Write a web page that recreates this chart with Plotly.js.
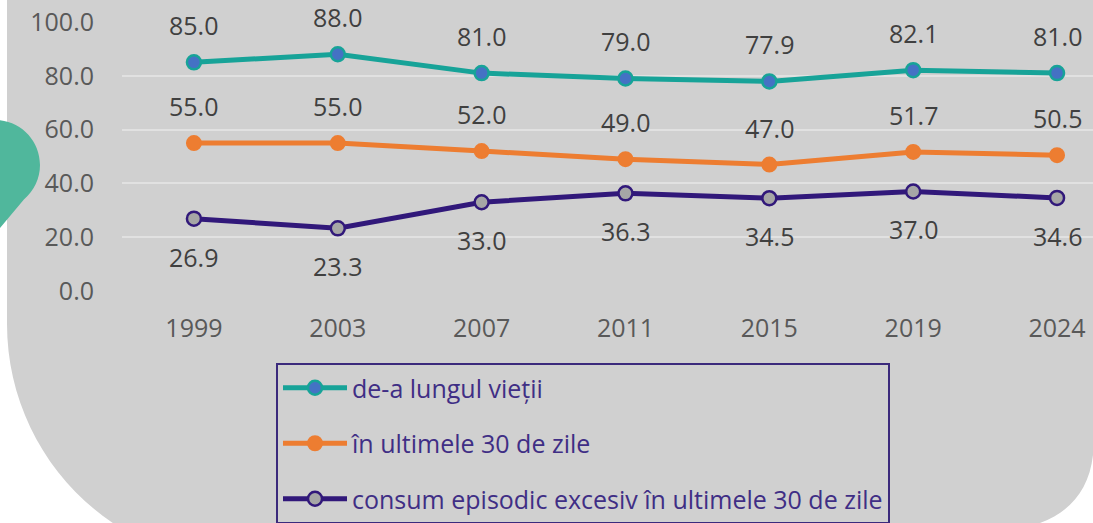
<!DOCTYPE html>
<html>
<head>
<meta charset="utf-8">
<script src="https://cdn.plot.ly/plotly-3.0.1.min.js"></script>
<style>
html,body{margin:0;padding:0;background:#fff;}
#chart{width:1093px;height:523px;}
</style>
</head>
<body>
<div id="chart"></div>
<script>
const years = ['1999','2003','2007','2011','2015','2019','2024'];
const lifetime = [85.0, 88.0, 81.0, 79.0, 77.9, 82.1, 81.0];
const last30 = [55.0, 55.0, 52.0, 49.0, 47.0, 51.7, 50.5];
const binge = [26.9, 23.3, 33.0, 36.3, 34.5, 37.0, 34.6];
const seriesNames = ['de-a lungul vieții', 'în ultimele 30 de zile', 'consum episodic excesiv în ultimele 30 de zile'];
const yTickVals = [0, 20, 40, 60, 80, 100];

const W = 1093, H = 523;
const M = {l: 122, r: 0, t: 22, b: 232, autoexpand: false};
const PW = W - M.l - M.r, PH = H - M.t - M.b;
function P(x, y) { return ((x - M.l) / PW).toFixed(5) + ',' + ((M.t + PH - y) / PH).toFixed(5); }

const greyPath = 'M' + P(7, -10) + ' L' + P(1100, -10) + ' L' + P(1100, 455) +
  ' L' + P(1093, 455) + ' C' + P(1089, 490) + ' ' + P(1070, 512) + ' ' + P(1040, 523) +
  ' L' + P(1040, 530) + ' L' + P(112.8, 530) +
  ' L' + P(112.8, 523) + ' C' + P(46.7, 478.4) + ' ' + P(7, 403.8) + ' ' + P(7, 324) + ' Z';
const blobPath = 'M' + P(-5, 120) + ' C' + P(19.9, 120) + ' ' + P(40, 140.1) + ' ' + P(40, 165) +
  ' C' + P(40, 178.3) + ' ' + P(34.1, 190.9) + ' ' + P(23.9, 199.5) +
  ' L' + P(-5, 234) + ' Z';

const teal = '#17A398', blue = '#4472C4', orange = '#ED7D31', purple = '#31187A', markGrey = '#A6A6A6';
const fontFam = 'Open Sans, Noto Sans, sans-serif';

const traces = [
  {x: years, y: lifetime, name: seriesNames[0], type: 'scatter', mode: 'lines+markers', legendgroup: 'a',
   line: {color: teal, width: 5}, marker: {color: blue, size: 14, line: {color: teal, width: 2.5}}, cliponaxis: false},
  {x: years, y: last30, name: seriesNames[1], type: 'scatter', mode: 'lines+markers', legendgroup: 'b',
   line: {color: orange, width: 5}, marker: {color: orange, size: 14, line: {color: orange, width: 2}}, cliponaxis: false},
  {x: years, y: binge, name: seriesNames[2], type: 'scatter', mode: 'lines+markers', legendgroup: 'c',
   line: {color: purple, width: 5}, marker: {color: markGrey, size: 14, line: {color: purple, width: 2.5}}, cliponaxis: false}
];

const annotations = [];
function addLabels(vals, shift) {
  vals.forEach(function (v, i) {
    annotations.push({
      x: i, y: v, xref: 'x', yref: 'y', text: v.toFixed(1), showarrow: false,
      xanchor: 'center', yanchor: 'middle',
      yshift: shift, font: {family: fontFam, size: 25, color: '#404040'}
    });
  });
}
addLabels(lifetime, 37);
addLabels(last30, 37);
addLabels(binge, -38);

const layout = {
  width: W, height: H,
  margin: M,
  paper_bgcolor: '#FFFFFF',
  plot_bgcolor: 'rgba(0,0,0,0)',
  showlegend: true,
  font: {family: fontFam, color: '#595959'},
  xaxis: {
    type: 'category', range: [-0.5, 6.25], showgrid: false, zeroline: false, showline: false,
    ticks: 'outside', ticklen: 15, tickcolor: 'rgba(0,0,0,0)',
    tickfont: {family: fontFam, size: 25, color: '#595959'}, fixedrange: true
  },
  yaxis: {
    range: [0, 100], tickvals: yTickVals, tickformat: '.1f', showgrid: true, gridcolor: '#E1E1E1', gridwidth: 2,
    zeroline: false, showline: false, ticks: 'outside', ticklen: 22, tickcolor: 'rgba(0,0,0,0)',
    tickfont: {family: fontFam, size: 25, color: '#595959'}, fixedrange: true
  },
  legend: {
    x: (276 - M.l) / PW, y: (M.t + PH - 363) / PH, xanchor: 'left', yanchor: 'top',
    bgcolor: 'rgba(0,0,0,0)', bordercolor: '#3B2A7C', borderwidth: 2,
    font: {family: fontFam, size: 25, color: '#3F2E85'},
    traceorder: 'grouped', tracegroupgap: 20, itemwidth: 64
  },
  shapes: [
    {type: 'path', xref: 'paper', yref: 'paper', path: greyPath, fillcolor: '#D0D0D0', line: {width: 0}, layer: 'below'},
    {type: 'path', xref: 'paper', yref: 'paper', path: blobPath, fillcolor: '#50B79C', line: {width: 0}, layer: 'below'}
  ],
  annotations: annotations
};

Plotly.newPlot('chart', traces, layout, {displayModeBar: false, staticPlot: true});
</script>
</body>
</html>
